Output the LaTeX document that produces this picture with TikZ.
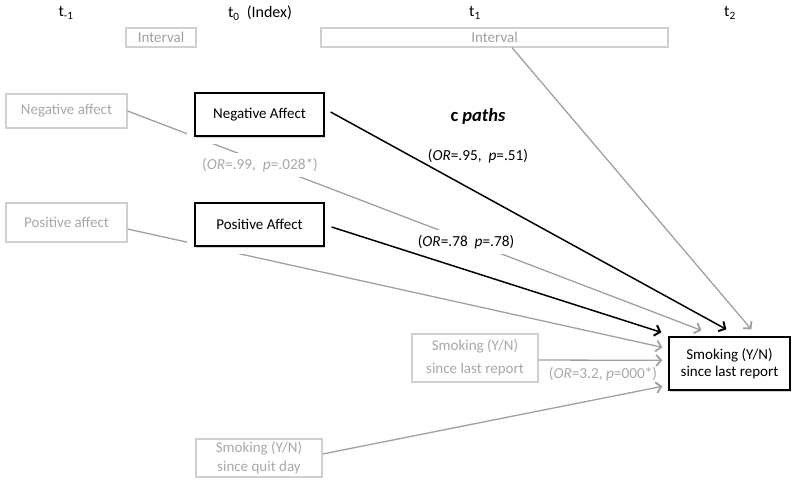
\documentclass[tikz,border=0pt]{standalone}
\usepackage{fontspec}
\setmainfont{Carlito}
\usetikzlibrary{arrows.meta,calc,shadows}
\definecolor{gline}{HTML}{A0A0A0}
\definecolor{gbox}{HTML}{D0D0D0}
\definecolor{gtext}{HTML}{A8A8A8}
\begin{document}
\begin{tikzpicture}[x=1pt,y=-1pt,
  gbx/.style={draw=gbox,line width=1.2pt,rectangle,inner sep=0pt,align=center,text=gtext,font=\fontsize{15}{17}\selectfont},
  bbx/.style={draw=black,line width=1.3pt,fill=white,rectangle,inner sep=0pt,align=center,font=\fontsize{15}{17}\selectfont,
    preaction={draw=white,line width=16pt},
    drop shadow={shadow xshift=1.2pt,shadow yshift=-1.5pt,opacity=0.35}},
  tl/.style={font=\fontsize{16}{18}\selectfont},
  lbl/.style={font=\fontsize{15.3}{17}\selectfont,inner sep=0pt},
  glbl/.style={lbl,text=gtext},
  garr/.style={draw=gline,line width=1.3pt,-{Straight Barb[length=5pt,width=11pt,line width=1.8pt]}},
  barr/.style={draw=black,line width=1.5pt,-{Straight Barb[length=5pt,width=11pt,line width=2pt]}},
  gln/.style={draw=gline,line width=1.3pt}
]
\useasboundingbox (0,0) rectangle (800,483);
% time labels
\node[tl] (tm1) at (66,13) {t\textsubscript{-1}};
\node[tl] (t0) at (260,13) {t\textsubscript{0}\ \ (Index)};
\node[tl] (t1) at (475,13) {t\textsubscript{1}};
\node[tl] (t2) at (730,13) {t\textsubscript{2}};
% interval boxes
\node[gbx,minimum width=70pt,minimum height=19pt,font=\fontsize{15}{15}\selectfont,text=gline] (int1) at (161,37.5) {Interval};
\node[gbx,minimum width=347pt,minimum height=19pt,font=\fontsize{15}{15}\selectfont,text=gline] (int2) at (494.5,37.5) {Interval};
% gray covariate boxes
\node[gbx,minimum width=121pt,minimum height=34pt] (ngA) at (66.5,111) {Negative affect};
\node[gbx,minimum width=121pt,minimum height=39pt] (pgA) at (66.5,222.5) {Positive affect};
\node[gbx,minimum width=126pt,minimum height=48pt,font=\fontsize{15}{23}\selectfont] (smkL) at (475,358) {Smoking (Y/N)\\since last report};
\node[gbx,minimum width=126pt,minimum height=38pt,font=\fontsize{15}{19}\selectfont] (qd) at (259,458) {Smoking (Y/N)\\since quit day};
% outcome
\node[bbx,minimum width=121pt,minimum height=53pt] (smk) at (729.5,363.5) {Smoking (Y/N)\\since last report};
% gray paths passing under black boxes
\draw[garr] (ngA.east) -- ($(smk.north west)+(33,-6)$);
\draw[garr] ($(pgA.east)+(0,6.5)$) -- ($(smk.north west)+(-6,11)$);
% black predictor boxes
\node[bbx,minimum width=129pt,minimum height=43pt] (nA) at (259.5,114.5) {Negative Affect};
\node[bbx,minimum width=129pt,minimum height=43pt] (pA) at (259.5,224.5) {Positive Affect};
% labels
\node[glbl,fill=white,inner xsep=3pt,inner ysep=5pt] (l99) at (260,165) {(\textit{OR}=.99,\ \ \textit{p}=.028*)};
\node[lbl,fill=white,inner xsep=3pt,inner ysep=5pt] (l78) at (466,242) {(\textit{OR}=.78\ \ \textit{p}=.78)};
\node[lbl] (l95) at (478,156) {(\textit{OR}=.95,\ \ \textit{p}=.51)};
\node[lbl,font=\fontsize{18.5}{20}\selectfont\bfseries] (cp) at (478,116) {c \textit{paths}};
\node[glbl] (l32) at (603,374) {(\textit{OR}=3.2, \textit{p}=000*)};
% other paths
\draw[garr] ($(int2.south)+(17.5,0)$) -- ($(smk.north west)+(83,-7)$);
\draw[barr] ($(nA.east)+(6,-2.5)$) -- ($(smk.north west)+(58,-7)$);
\draw[barr] ($(pA.east)+(7,2.5)$) -- ($(smk.north west)+(-7,-4)$);
\draw[garr] ($(smkL.east)+(0,2)$) -- ($(smk.north west)+(-6,24)$);
\draw[garr] ($(qd.east)+(0,-4)$) -- ($(smk.north west)+(-6,50)$);
\end{tikzpicture}
\end{document}
